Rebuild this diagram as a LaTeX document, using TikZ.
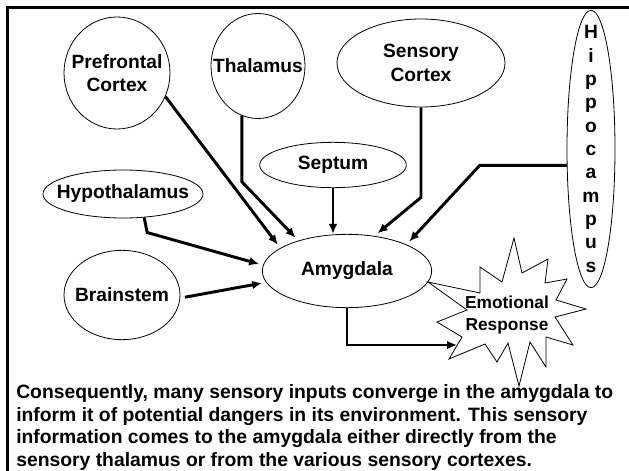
\documentclass[tikz,border=0pt]{standalone}
\usepackage{fontspec}
\setmainfont{Liberation Sans}
\usepackage{tikz}
\usetikzlibrary{shapes.geometric, arrows.meta}
\tikzstyle{Region}=[ellipse, draw=black, line width=0.6pt, inner sep=0pt]
\tikzstyle{Name}=[align=center, inner sep=0pt, font=\fontsize{14.4}{17.5}\selectfont\bfseries]
\tikzstyle{Link}=[-{Latex[length=7.5pt,width=6.5pt]}, line width=2.2pt, shorten >=3pt]
\tikzstyle{Body}=[align=left, inner sep=0pt, font=\fontsize{14.5}{16.9}\selectfont\bfseries]

\begin{document}
\begin{tikzpicture}[x=0.75pt, y=-0.75pt]
    \useasboundingbox (0,0) rectangle (629,471);
    \draw[line width=2.25pt] (629,7.5) -- (7.5,7.5) -- (7.5,471);

    \path
    (117,73) node[Region, minimum width=79.5pt, minimum height=84pt, label={[Name]center:Prefrontal\\Cortex}] (prefrontal) {}
    (258,66) node[Region, minimum width=70.5pt, minimum height=78.75pt, label={[Name]center:Thalamus}] (thalamus) {}
    (421,63) node[Region, minimum width=126pt, minimum height=66pt, label={[Name]center:Sensory\\Cortex}] (sensory) {}
    (591,149) node[Region, minimum width=36pt, minimum height=208pt, label={[Name]center:{H\\i\\p\\p\\o\\c\\a\\m\\p\\u\\s}}] (hippocampus) {}
    (333,165) node[Region, minimum width=110pt, minimum height=34pt, label={[Name]center:Septum}] (septum) {}
    (123,194) node[Region, minimum width=120pt, minimum height=36pt, label={[Name]center:Hypothalamus}] (hypothalamus) {}
    (122,295) node[Region, minimum width=87pt, minimum height=67pt, label={[Name]center:Brainstem}] (brainstem) {}
    (347,271) node[Region, minimum width=127pt, minimum height=55pt, label={[Name]center:Amygdala}] (amygdala) {};

    % starburst round the response
    \draw[line width=0.6pt] (514,238) -- (522,273) -- (548,259) -- (545,283) -- (567,279)
        -- (556,300) -- (586,309) -- (555,317) -- (573,345) -- (546,337) -- (546,367)
        -- (530,342) -- (519,386) -- (508,343) -- (497,362) -- (485,344) -- (449,359)
        -- (462,337) -- (437,322) -- (467,310) -- (428,282) -- (480,293) -- (480,267)
        -- (502,282) -- cycle;
    \coordinate (notch) at (457,345);
    \path (507,315) node[Name, font=\fontsize{13}{16.5}\selectfont\bfseries] (emotional) {Emotional\\Response};

    \draw[Link] (prefrontal.-26) -- (amygdala.161);
    \draw[Link] (thalamus.-108) -- ++(0,66) -- (amygdala.148);
    \draw[Link, shorten >=0pt] (septum.south) -- (septum.south |- amygdala.north);
    \draw[Link] (sensory.south) -- ++(0,90) -- (amygdala.52);
    \draw[Link] (hippocampus.214) -- ++(-87,0) -- (amygdala.24);
    \draw[Link] (hypothalamus.-48) -- ++(3,15) -- (amygdala.176);
    \draw[Link, shorten <=3.5pt] (brainstem.-3) -- (amygdala.188);
    \draw[Link, shorten >=0pt] (amygdala.south) |- (notch);

    \path (16,384.5) node[Body, anchor=north west] (caption) {Consequently, many sensory inputs converge in the amygdala to\\inform it of potential dangers in its environment. This sensory\\information comes to the amygdala either directly from the\\sensory thalamus or from the various sensory cortexes.};
\end{tikzpicture}
\end{document}
